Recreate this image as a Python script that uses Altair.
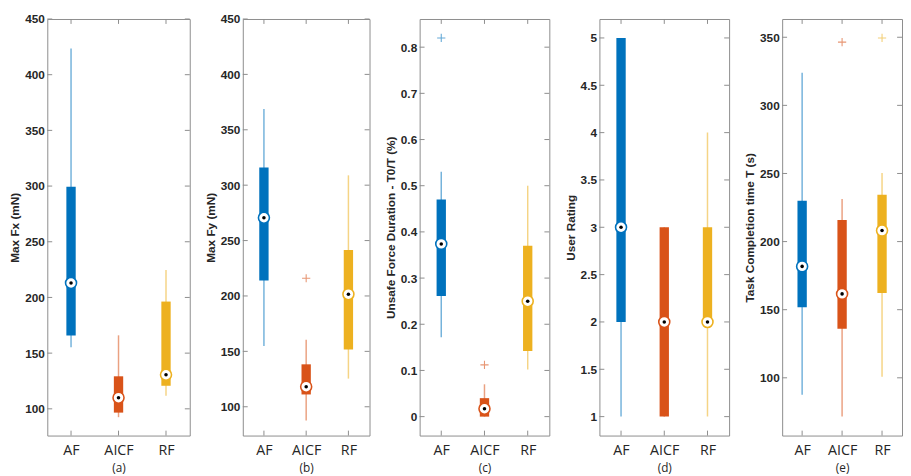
import altair as alt
import pandas as pd

cats = ["AF", "AICF", "RF"]
colors = ["#0072BD", "#D95319", "#EDB120"]

panel_letters = ["(a)", "(b)", "(c)", "(d)", "(e)"]
y_titles = ["Max Fx (mN)", "Max Fy (mN)", "Unsafe Force Duration - T0/T (%)",
            "User Rating", "Task Completion time T (s)"]

# per panel statistics, order AF, AICF, RF
a_lo = [155.3, 92.5, 111.7]
a_q1 = [165.8, 96.6, 120.7]
a_med = [213.0, 110.0, 130.6]
a_q3 = [299.5, 129.2, 196.3]
a_hi = [423.5, 166.0, 224.7]
a_out_cat = []
a_out_val = []

b_lo = [154.9, 87.7, 125.4]
b_q1 = [213.9, 111.1, 151.7]
b_med = [270.6, 118.1, 201.6]
b_q3 = [315.9, 138.3, 241.4]
b_hi = [368.8, 160.4, 308.9]
b_out_cat = ["AICF"]
b_out_val = [216.0]

c_lo = [0.172, 0.0, 0.102]
c_q1 = [0.261, 0.0, 0.142]
c_med = [0.374, 0.017, 0.250]
c_q3 = [0.470, 0.040, 0.370]
c_hi = [0.530, 0.070, 0.500]
c_out_cat = ["AF", "AICF"]
c_out_val = [0.820, 0.112]

d_lo = [1.0, 1.0, 1.0]
d_q1 = [2.0, 1.0, 2.0]
d_med = [3.0, 2.0, 2.0]
d_q3 = [5.0, 3.0, 3.0]
d_hi = [5.0, 3.0, 4.0]
d_out_cat = []
d_out_val = []

e_lo = [87.5, 71.5, 100.7]
e_q1 = [151.8, 136.1, 162.3]
e_med = [181.8, 161.6, 208.1]
e_q3 = [230.0, 215.8, 234.3]
e_hi = [323.9, 231.2, 250.4]
e_out_cat = ["AICF", "RF"]
e_out_val = [346.4, 349.5]

a_ticks = [100, 150, 200, 250, 300, 350, 400, 450]
b_ticks = [100, 150, 200, 250, 300, 350, 400, 450]
c_ticks = [0, 0.1, 0.2, 0.3, 0.4, 0.5, 0.6, 0.7, 0.8]
d_ticks = [1, 1.5, 2, 2.5, 3, 3.5, 4, 4.5, 5]
e_ticks = [100, 150, 200, 250, 300, 350]

a_dom = [76, 450]
b_dom = [74, 450]
c_dom = [-0.041, 0.861]
d_dom = [0.8, 5.2]
e_dom = [57.6, 363.4]

widths = [145, 129, 132, 132, 122]
H = 424

panels_data = [
    (a_lo, a_q1, a_med, a_q3, a_hi, a_out_cat, a_out_val, a_ticks, a_dom),
    (b_lo, b_q1, b_med, b_q3, b_hi, b_out_cat, b_out_val, b_ticks, b_dom),
    (c_lo, c_q1, c_med, c_q3, c_hi, c_out_cat, c_out_val, c_ticks, c_dom),
    (d_lo, d_q1, d_med, d_q3, d_hi, d_out_cat, d_out_val, d_ticks, d_dom),
    (e_lo, e_q1, e_med, e_q3, e_hi, e_out_cat, e_out_val, e_ticks, e_dom),
]

TEXT = "#262626"
FRAME = "#8c8c8c"
color_scale = alt.Scale(domain=cats, range=colors)


def make_panel(i):
    lo, q1, med, q3, hi, ocat, oval, ticks, dom = panels_data[i]
    W = widths[i]
    stats = pd.DataFrame({"cat": cats, "lo": lo, "q1": q1, "med": med, "q3": q3, "hi": hi})
    outs = pd.DataFrame({"cat": ocat, "v": oval})
    tdf = pd.DataFrame({"t": ticks})
    cdf = pd.DataFrame({"cat": cats})

    xs = alt.Scale(type="point", domain=cats, padding=0.5)
    ys = alt.Scale(domain=dom, nice=False, zero=False)
    col = alt.Color("cat:N", scale=color_scale, legend=None)
    xax = alt.Axis(title=panel_letters[i], labelAngle=0, ticks=False,
                   domain=False, grid=False, labelPadding=8,
                   labelFont="Open Sans", labelFontSize=14.5,
                   labelColor=TEXT, titleFont="Open Sans",
                   titleFontSize=12, titleFontWeight="normal",
                   titleColor=TEXT, titlePadding=6)
    yax = alt.Axis(values=ticks, format=".1~f", title=y_titles[i], ticks=False,
                   domain=False, grid=False, labelPadding=3,
                   labelFont="Liberation Sans", labelFontSize=12,
                   labelFontWeight="bold", labelColor=TEXT,
                   titleFont="Liberation Sans", titleFontSize=12,
                   titleFontWeight="bold", titleColor=TEXT,
                   titlePadding=3)
    xn = alt.X("cat:N", scale=xs, axis=xax)

    def yf(f):
        return alt.Y(f, scale=ys, axis=yax)

    whisk = alt.Chart(stats).mark_rule(strokeWidth=1.5, opacity=0.55).encode(
        x=xn, y=yf("lo:Q"), y2="hi:Q", color=col)
    box = alt.Chart(stats).mark_rule(strokeWidth=9.5, strokeCap="butt").encode(
        x=xn, y=yf("q1:Q"), y2="q3:Q", color=col)
    ring = alt.Chart(stats).mark_point(filled=False, fill="white", fillOpacity=1,
                                       opacity=1, strokeWidth=1.6, size=125,
                                       shape="circle").encode(
        x=xn, y=yf("med:Q"), color=col)
    dot = alt.Chart(stats).mark_point(filled=True, color="black", opacity=1,
                                      size=13, shape="circle").encode(
        x=xn, y=yf("med:Q"))
    layers = [whisk, box, ring, dot]
    if len(ocat) > 0:
        plus = alt.Chart(outs).mark_point(
            shape="M-1,0L1,0M0,-1L0,1", filled=False, strokeWidth=1.1,
            size=70, opacity=0.6).encode(
            x=xn, y=yf("v:Q"), color=col)
        layers.append(plus)
    # inward ticks like a boxed plot
    ytl = alt.Chart(tdf).mark_rule(color=FRAME, strokeWidth=1).encode(
        y=yf("t:Q"), x=alt.value(0), x2=alt.value(5))
    ytr = alt.Chart(tdf).mark_rule(color=FRAME, strokeWidth=1).encode(
        y=yf("t:Q"), x=alt.value(W - 5), x2=alt.value(W))
    xtb = alt.Chart(cdf).mark_rule(color=FRAME, strokeWidth=1).encode(
        x=xn, y=alt.value(H - 5), y2=alt.value(H))
    xtt = alt.Chart(cdf).mark_rule(color=FRAME, strokeWidth=1).encode(
        x=xn, y=alt.value(0), y2=alt.value(5))
    layers += [ytl, ytr, xtb, xtt]
    return alt.layer(*layers).properties(width=W, height=H)


chart = alt.hconcat(*[make_panel(i) for i in range(5)], spacing=13).configure_view(
    stroke=FRAME, strokeWidth=1
).properties(padding={"left": 0, "top": 0, "right": 0, "bottom": 0})

chart.save("out.html", embed_options={"renderer": "svg", "actions": False})
